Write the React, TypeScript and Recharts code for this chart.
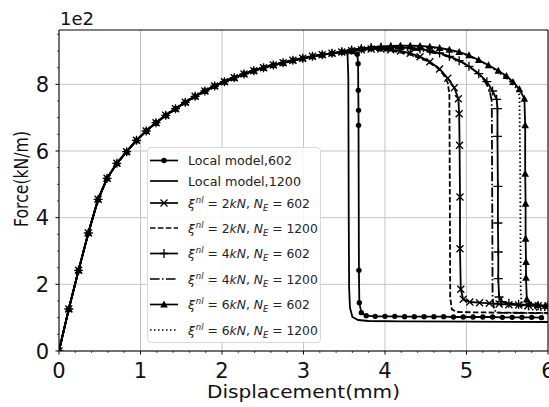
import { LineChart, Line, XAxis, YAxis, CartesianGrid, Legend, ReferenceLine } from "recharts";

type Pt = [number, number];

// shared loading branch: displacement (mm) / force (1e2 kN/m)
const riseDisp = [0, 0.12, 0.24, 0.36, 0.48, 0.59, 0.71, 0.83, 0.95, 1.07, 1.19, 1.31, 1.43, 1.55, 1.67, 1.79, 1.91, 2.03, 2.15, 2.27, 2.39, 2.51, 2.63, 2.75, 2.87, 2.99, 3.11, 3.23, 3.35];
const riseForce = [0, 1.26, 2.42, 3.54, 4.55, 5.18, 5.63, 5.98, 6.32, 6.6, 6.85, 7.07, 7.27, 7.46, 7.64, 7.8, 7.95, 8.08, 8.2, 8.31, 8.41, 8.5, 8.58, 8.65, 8.72, 8.78, 8.84, 8.89, 8.93];

// post-peak branches
const local602: Pt[] = [[3.47, 8.96], [3.59, 8.98], [3.66, 8.9], [3.67, 8.62], [3.672, 7.82], [3.675, 7.22], [3.675, 6.77], [3.68, 2.42], [3.685, 1.45], [3.71, 1.15], [3.77, 1.06], [3.88, 1.04], [4.0, 1.04], [4.12, 1.04], [4.24, 1.03], [4.36, 1.03], [4.48, 1.03], [4.6, 1.03], [4.72, 1.03], [4.84, 1.02], [4.96, 1.02], [5.08, 1.02], [5.2, 1.02], [5.32, 1.02], [5.44, 1.01], [5.56, 1.01], [5.68, 1.01], [5.8, 1.01], [5.92, 1.0]];
const local1200: Pt[] = [[3.45, 8.95], [3.51, 8.96], [3.54, 8.9], [3.55, 8.2], [3.555, 4], [3.56, 1.9], [3.57, 1.3], [3.6, 1.02], [3.67, 0.93], [3.8, 0.9], [4.2, 0.89], [5, 0.88], [6, 0.87]];
const xi2n602: Pt[] = [[3.47, 8.97], [3.59, 9.01], [3.71, 9.04], [3.83, 9.06], [3.95, 9.06], [4.07, 9.04], [4.19, 9.0], [4.31, 8.93], [4.43, 8.83], [4.55, 8.68], [4.67, 8.46], [4.77, 8.18], [4.85, 7.9], [4.9, 7.57], [4.91, 7.12], [4.915, 6.17], [4.92, 4.62], [4.92, 3.07], [4.93, 1.85], [4.96, 1.55], [5.04, 1.47], [5.16, 1.45], [5.28, 1.43], [5.4, 1.41], [5.52, 1.39], [5.64, 1.38], [5.76, 1.37], [5.88, 1.36], [6, 1.35]];
const xi2n1200: Pt[] = [[3.5, 8.97], [3.7, 9.02], [3.9, 9.03], [4.1, 9.0], [4.3, 8.9], [4.5, 8.72], [4.64, 8.5], [4.72, 8.28], [4.77, 8.05], [4.79, 7.7], [4.795, 5], [4.8, 1.6], [4.82, 1.25], [4.88, 1.17], [5.1, 1.16], [5.5, 1.15], [6, 1.14]];
const xi4n602: Pt[] = [[3.47, 8.98], [3.59, 9.03], [3.71, 9.07], [3.83, 9.1], [3.95, 9.11], [4.07, 9.12], [4.19, 9.11], [4.31, 9.09], [4.43, 9.06], [4.55, 9.01], [4.67, 8.94], [4.79, 8.84], [4.91, 8.71], [5.03, 8.54], [5.15, 8.32], [5.25, 8.08], [5.32, 7.8], [5.37, 7.55], [5.38, 7.27], [5.38, 6.44], [5.385, 4.94], [5.385, 3.84], [5.39, 2.97], [5.39, 2.17], [5.4, 1.62], [5.43, 1.48], [5.52, 1.43], [5.64, 1.4], [5.76, 1.38], [5.88, 1.36], [6, 1.34]];
const xi4n1200: Pt[] = [[3.5, 8.98], [3.8, 9.06], [4.1, 9.08], [4.4, 9.03], [4.7, 8.9], [4.95, 8.66], [5.12, 8.38], [5.22, 8.12], [5.28, 7.85], [5.31, 7.5], [5.315, 5], [5.32, 1.6], [5.34, 1.22], [5.4, 1.15], [5.7, 1.14], [6, 1.13]];
const xi6n602: Pt[] = [[3.47, 8.99], [3.59, 9.04], [3.71, 9.08], [3.83, 9.11], [3.95, 9.13], [4.07, 9.15], [4.19, 9.16], [4.31, 9.16], [4.43, 9.15], [4.55, 9.13], [4.67, 9.09], [4.79, 9.04], [4.91, 8.97], [5.03, 8.87], [5.15, 8.73], [5.27, 8.57], [5.39, 8.41], [5.49, 8.25], [5.57, 8.07], [5.65, 7.85], [5.71, 7.57], [5.72, 6.77], [5.72, 5.32], [5.725, 4.42], [5.725, 3.37], [5.73, 2.67], [5.73, 2.2], [5.74, 1.55], [5.77, 1.42], [5.87, 1.38], [5.97, 1.36]];
const xi6n1200: Pt[] = [[3.5, 8.99], [3.8, 9.1], [4.1, 9.14], [4.4, 9.14], [4.7, 9.07], [4.95, 8.93], [5.15, 8.72], [5.35, 8.44], [5.5, 8.17], [5.6, 7.92], [5.65, 7.68], [5.66, 5], [5.665, 1.8], [5.68, 1.33], [5.73, 1.25], [6, 1.22]];

const xMajor = [0, 1, 2, 3, 4, 5, 6];
const yMajor = [0, 2, 4, 6, 8];
const xTicks = xMajor.slice(0, -1).flatMap((v) => [0, 0.2, 0.4, 0.6, 0.8].map((s) => +(v + s).toFixed(1))).concat([6]);
const yTicks = [0, 0.5, 1, 1.5, 2, 2.5, 3, 3.5, 4, 4.5, 5, 5.5, 6, 6.5, 7, 7.5, 8, 8.5, 9, 9.5];
const yMax = 9.63;

const FONT = "DejaVu Sans, sans-serif";

type Marker = "dot" | "x" | "plus" | "tri" | "none";

const series: { tail: Pt[]; marker: Marker; dash?: string; label: string; xi?: string; ne?: string }[] = [
  { tail: local602, marker: "dot", label: "Local model,602" },
  { tail: local1200, marker: "none", label: "Local model,1200" },
  { tail: xi2n602, marker: "x", label: "", xi: "2", ne: "602" },
  { tail: xi2n1200, marker: "none", dash: "5.5 2.4", label: "", xi: "2", ne: "1200" },
  { tail: xi4n602, marker: "plus", label: "", xi: "4", ne: "602" },
  { tail: xi4n1200, marker: "none", dash: "9.6 2.4 1.5 2.4", label: "", xi: "4", ne: "1200" },
  { tail: xi6n602, marker: "tri", label: "", xi: "6", ne: "602" },
  { tail: xi6n1200, marker: "none", dash: "1.5 2.5", label: "", xi: "6", ne: "1200" },
];

const toRows = (tail: Pt[]) =>
  riseDisp.map((d, i) => ({ d, f: riseForce[i] })).concat(tail.map(([d, f]) => ({ d, f })));

function MarkerShape({ kind, cx, cy }: { kind: Marker; cx: number; cy: number }) {
  if (kind === "dot") return <circle cx={cx} cy={cy} r={2.7} fill="#000" />;
  if (kind === "x")
    return (
      <path d={`M${cx - 3.5},${cy - 3.5}L${cx + 3.5},${cy + 3.5}M${cx - 3.5},${cy + 3.5}L${cx + 3.5},${cy - 3.5}`} stroke="#000" strokeWidth={1.3} />
    );
  if (kind === "plus")
    return <path d={`M${cx - 4.5},${cy}L${cx + 4.5},${cy}M${cx},${cy - 4.5}L${cx},${cy + 4.5}`} stroke="#000" strokeWidth={1.3} />;
  if (kind === "tri")
    return <path d={`M${cx},${cy - 4}L${cx + 3.8},${cy + 3}L${cx - 3.8},${cy + 3}Z`} fill="#000" />;
  return null;
}

function XTick({ x, y, payload }: any) {
  const v = payload.value;
  const major = xMajor.includes(v);
  return (
    <g>
      <line x1={x} x2={x} y1={y} y2={y + (major ? 3.5 : 2)} stroke="#000" strokeWidth={major ? 1 : 0.7} />
      {major && (
        <text x={x} y={y + 27} textAnchor="middle" fontSize={21} fontFamily={FONT} fill="#111">
          {v}
        </text>
      )}
    </g>
  );
}

function YTick({ x, y, payload }: any) {
  const v = payload.value;
  const major = yMajor.includes(v);
  return (
    <g>
      <line x1={x} x2={x - (major ? 3.5 : 2)} y1={y} y2={y} stroke="#000" strokeWidth={major ? 1 : 0.7} />
      {major && (
        <text x={x - 10} y={y + 7.5} textAnchor="end" fontSize={21} fontFamily={FONT} fill="#111">
          {v}
        </text>
      )}
    </g>
  );
}

function LegendBox() {
  const rowY = [12.5, 33, 55, 80, 105.5, 131, 156.5, 182];
  return (
    <div
      style={{
        width: 174,
        height: 196,
        border: "1px solid #d8d8d8",
        borderRadius: 4,
        background: "rgba(255,255,255,0.85)",
        boxSizing: "border-box",
      }}
    >
      <svg width={172} height={194} style={{ display: "block" }}>
        {series.map((s, i) => {
          const y = rowY[i];
          return (
            <g key={i}>
              <line x1={2} x2={30} y1={y} y2={y} stroke="#000" strokeWidth={1.7} strokeDasharray={s.dash} />
              <MarkerShape kind={s.marker} cx={16} cy={y} />
              {s.label ? (
                <text
                  x={40}
                  y={y + 4.5}
                  fontSize={13}
                  fontFamily={FONT}
                  fill="#222"
                  textLength={s.label.endsWith("1200") ? 113 : 104}
                  lengthAdjust="spacingAndGlyphs"
                >
                  {s.label}
                </text>
              ) : (
                <text x={40} y={y + 4.5} fontSize={12.3} fontFamily={FONT} fill="#222">
                  <tspan fontStyle="italic">ξ</tspan>
                  <tspan fontStyle="italic" fontSize={8.5} dx={1} dy={-5}>nl</tspan>
                  <tspan dy={5}>{" = " + s.xi}</tspan>
                  <tspan fontStyle="italic">kN</tspan>
                  <tspan>{", "}</tspan>
                  <tspan fontStyle="italic">N</tspan>
                  <tspan fontStyle="italic" fontSize={8.5} dy={3}>E</tspan>
                  <tspan dy={-3}>{" = " + s.ne}</tspan>
                </text>
              )}
            </g>
          );
        })}
      </svg>
    </div>
  );
}

export default function App() {
  return (
    <div style={{ position: "absolute", left: 0, top: 0, background: "#fff" }}>
      <LineChart width={549} height={407} margin={{ top: 30, right: 1, bottom: 0, left: 0 }}>
        <CartesianGrid stroke="#c4c4c4" strokeWidth={1} horizontalValues={yMajor} verticalValues={xMajor} />
        <XAxis
          dataKey="d"
          type="number"
          domain={[0, 6]}
          ticks={xTicks}
          interval={0}
          height={56}
          tickSize={0}
          tickMargin={0}
          tickLine={false}
          tick={<XTick />}
          axisLine={{ stroke: "#000", strokeWidth: 1 }}
          allowDataOverflow
          label={() => (
            <text x={303.5} y={398} textAnchor="middle" fontSize={18} fontFamily={FONT} fill="#111" textLength={193} lengthAdjust="spacingAndGlyphs">
              Displacement(mm)
            </text>
          )}
        />
        <YAxis
          dataKey="f"
          type="number"
          domain={[0, yMax]}
          ticks={yTicks}
          interval={0}
          width={59}
          tickSize={0}
          tickMargin={0}
          tickLine={false}
          tick={<YTick />}
          axisLine={{ stroke: "#000", strokeWidth: 1 }}
          allowDataOverflow
          label={() => (
            <g>
              <text
                x={0}
                y={0}
                transform="translate(28,179) rotate(-90)"
                textAnchor="middle"
                fontSize={20}
                fontFamily={FONT}
                fill="#111"
                textLength={96}
                lengthAdjust="spacingAndGlyphs"
              >
                Force(kN/m)
              </text>
              <text x={60} y={25} fontSize={18} fontFamily={FONT} fill="#111">
                1e2
              </text>
            </g>
          )}
        />
        <ReferenceLine y={yMax} stroke="#000" strokeWidth={1} />
        <ReferenceLine x={6} stroke="#000" strokeWidth={1} />
        {series.map((s, i) => (
          <Line
            key={i}
            data={toRows(s.tail)}
            dataKey="f"
            type="linear"
            stroke="#000"
            strokeWidth={1.8}
            strokeDasharray={s.dash}
            dot={
              s.marker === "none"
                ? false
                : (p: any) => <MarkerShape key={p.index} kind={s.marker} cx={p.cx} cy={p.cy} />
            }
            activeDot={false}
            legendType="none"
            isAnimationActive={false}
          />
        ))}
        <Legend
          layout="vertical"
          align="center"
          verticalAlign="middle"
          content={() => <LegendBox />}
          wrapperStyle={{ left: 147, top: 147, width: 174, height: 196 }}
        />
      </LineChart>
    </div>
  );
}
